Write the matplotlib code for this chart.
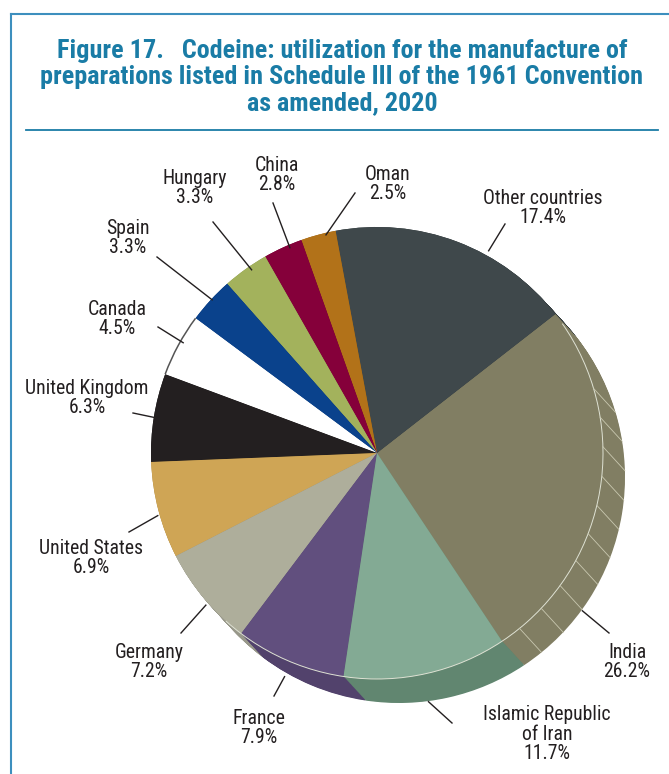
import matplotlib.pyplot as plt
from matplotlib import font_manager
from matplotlib.patches import Arc
import numpy as np

# data
countries = ["India", "Other countries", "Oman", "China", "Hungary", "Spain",
             "Canada", "United Kingdom", "United States", "Germany", "France",
             "Islamic Republic\nof Iran"]
shares = [26.2, 17.4, 2.5, 2.8, 3.3, 3.3, 4.5, 6.3, 6.9, 7.2, 7.9, 11.7]

# colours (top face / side face)
top_colors = ['#817e63', '#3f484b', '#b27219', '#85003a', '#a3b25c', '#0a428c',
              '#ffffff', '#231f20', '#cfa555', '#aeae9b', '#614f7e', '#83aa94']
side_colors = ['#817e63', '#343c3e', '#935e14', '#6c002f', '#87934c', '#083672',
               '#e6e6e6', '#1a1718', '#ab8946', '#98988a', '#52426c', '#618670']

# layout in image pixels (y down)
W, H = 669, 774
cx, cy, R = 377, 453, 226
off_x, off_y = 22, 24
text_pos = [(627, 662), (543, 208), (388, 184), (277, 175), (195, 188), (128, 238),
            (117, 319), (87, 398), (91, 558), (149, 662), (259, 728), (547, 734)]
line_start = [(609, 633), (505, 224), (355, 193), (273, 203), (213, 222), (157, 257),
              (158, 327), (133, 413), (129, 532), (181, 633), (274, 696), (452, 723)]
line_frac = [0.2, 0.37, 0.29, 0.34, 0.40, 0.47, 0.43, 0.50, 0.55, 0.56, 0.51, 0.48]
line_r = [259, 231, 224, 223, 222, 225, 223, 225, 228, 229, 242, 254]

# condensed face, like the original
names = {f.name for f in font_manager.fontManager.ttflist}
font = 'DejaVu Sans'
for cand in ['Roboto Condensed', 'Archivo Narrow', 'Barlow Condensed', 'Roboto']:
    if cand in names:
        font = cand
        break

text_col = '#231f20'
blue = '#1a7ca6'

fig = plt.figure(figsize=(W / 100, H / 100), dpi=100)
ax = fig.add_axes([0, 0, 1, 1])

# extruded side of the pie
for t in np.linspace(1, 0, 40):
    ax.pie(shares, colors=side_colors, startangle=-56.4, counterclock=True,
           radius=R, center=(cx + off_x * t, H - cy - off_y * t),
           wedgeprops=dict(linewidth=0))

# top face
wedges, _ = ax.pie(shares, colors=top_colors, startangle=-56.4, counterclock=True,
                   radius=R, center=(cx, H - cy), wedgeprops=dict(linewidth=0))

# facet lines on India side
w_ind = wedges[0]
for a in np.arange(w_ind.theta1 + 5.5, w_ind.theta2 - 15, 7.5):
    x0 = cx + R * np.cos(np.radians(a))
    y0 = H - cy + R * np.sin(np.radians(a))
    ax.plot([x0, x0 + off_x], [y0, y0 - off_y], color='#c9c8b0', lw=0.6)

# light rim on the top face edge
ax.add_patch(Arc((cx, H - cy), 2 * R, 2 * R, theta1=wedges[9].theta2 - 5,
                 theta2=w_ind.theta2 - 3, color='#dfe2d4', lw=0.7))
# grey rim on the white Canada slice
ax.add_patch(Arc((cx, H - cy), 2 * R, 2 * R, theta1=wedges[6].theta1,
                 theta2=wedges[6].theta2, color='#555555', lw=1.1))

# labels and leader lines
for i, w in enumerate(wedges):
    a = np.radians(w.theta1 + line_frac[i] * (w.theta2 - w.theta1))
    xe = cx + line_r[i] * np.cos(a)
    ye = H - cy + line_r[i] * np.sin(a)
    xs, ys = line_start[i]
    ax.plot([xs, xe], [H - ys, ye], color=text_col, lw=1.0)
    tx, ty = text_pos[i]
    ax.text(tx, H - ty, f"{countries[i]}\n{shares[i]}%", ha='center', va='center',
            fontsize=14.2, family=font, color=text_col, linespacing=1.05)

# title and frame
ax.text(342, H - 77, "Figure 17.   Codeine: utilization for the manufacture of\n"
        "preparations listed in Schedule III of the 1961 Convention\n"
        "as amended, 2020", ha='center', va='center', fontsize=18.8,
        fontweight='bold', family=font, color=blue, linespacing=1.13)
ax.plot([11, W], [H - 14, H - 14], color='#3d8fbe', lw=1.5)
ax.plot([11, 11], [H - 14, 0], color='#3d8fbe', lw=1.5)
ax.plot([26, 658], [H - 130, H - 130], color=blue, lw=1.3)

ax.set_xlim(0, W)
ax.set_ylim(0, H)
ax.set_aspect('equal')
ax.axis('off')

fig.savefig('out.png', dpi=100)
